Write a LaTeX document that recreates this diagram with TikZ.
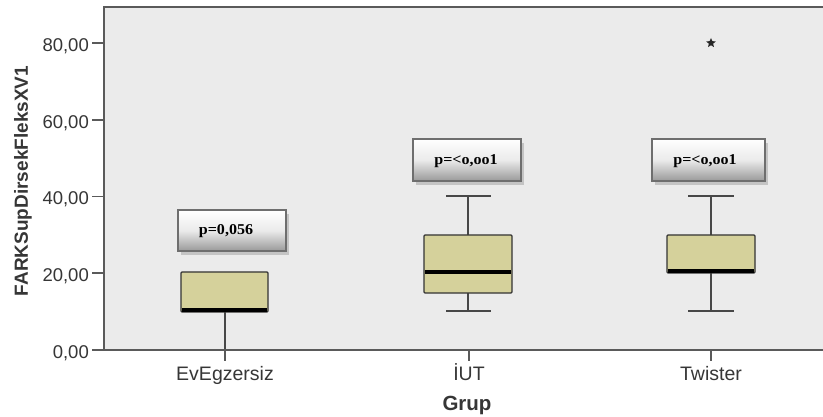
\documentclass[tikz,border=0pt]{standalone}
\usepackage{fontspec}
\setmainfont{Liberation Serif}
\newfontfamily\arialf{Liberation Sans}
\usetikzlibrary{shapes.geometric}
\definecolor{plotbg}{HTML}{EBEBEB}
\definecolor{boxfill}{HTML}{D5D19B}
\definecolor{axiscol}{HTML}{5A5A5A}
\definecolor{txtcol}{HTML}{363636}
\definecolor{pborder}{HTML}{6E6E6E}
\definecolor{pshadow}{HTML}{C4C4C4}
\newcommand{\pwideT}[1]{\scalebox{1.07}[1]{#1}}
\begin{document}
\begin{tikzpicture}[x=1pt,y=-1pt,
  ticklab/.style={font=\arialf\fontsize{18.5}{18.5}\selectfont, text=txtcol, anchor=base east, inner sep=0pt},
  catlab/.style={font=\arialf\fontsize{19.5}{19.5}\selectfont, text=txtcol, anchor=base, inner sep=0pt},
  axislbl/.style={font=\arialf\bfseries\fontsize{20.5}{20.5}\selectfont, text=txtcol, inner sep=0pt},
  axisline/.style={draw=axiscol, line width=1.8pt},
  databox/.style={draw=black!80, fill=boxfill, line width=1.3pt, rounded corners=1pt},
  whisk/.style={draw=black!72, line width=1.4pt},
  medianline/.style={draw=black, line width=4pt},
  pbox/.style={draw=pborder, line width=1.8pt, top color=white, bottom color=black!40, middle color=black!8},
  pshad/.style={fill=pshadow},
  ptext/.style={font=\bfseries\fontsize{15}{15}\selectfont, text=black, inner sep=0pt}
]
\useasboundingbox (0,0) rectangle (823,417);
\fill[white] (0,0) rectangle (823,417);
% plot background
\fill[plotbg] (104,7) rectangle (823,350);

% --- box 1: EvEgzersiz
\draw[whisk] (225,312) -- (225,350);
\draw[databox] (181,272) rectangle (268,312);
\draw[medianline] (182,310) -- (267,310);

% --- box 2: IUT
\draw[whisk] (468,196) -- (468,235);
\draw[whisk] (468,293) -- (468,311);
\draw[whisk] (446,196) -- (491,196);
\draw[whisk] (446,311) -- (491,311);
\draw[databox] (424,235) rectangle (512,293);
\draw[medianline] (425,272) -- (511,272);

% --- box 3: Twister
\draw[whisk] (711,196) -- (711,235);
\draw[whisk] (711,273) -- (711,311);
\draw[whisk] (688,196) -- (734,196);
\draw[whisk] (688,311) -- (734,311);
\draw[databox] (667,235) rectangle (755,273);
\draw[medianline] (668,271) -- (754,271);
\node[star, star points=5, star point ratio=2.2, fill=black!85, minimum size=10pt, inner sep=0pt] (outlier) at (711,43) {};

% --- frame and axes
\draw[axisline] (104,350) -- (104,7) -- (823,7);
\draw[axisline] (104,350) -- (823,350);
\foreach \v/\y in {0/350, 20/273.25, 40/196.5, 60/119.75, 80/43} {
  \draw[axisline] (92,\y) -- (104,\y);
  \node[ticklab] (t\v) at (89,\y+8.5) {\v,00};
}
\foreach \x in {225,469,711} {
  \draw[axisline] (\x,350) -- (\x,361);
}
\node[catlab] (c1) at (225,380) {EvEgzersiz};
\node[catlab] (c2) at (469,380) {İUT};
\node[catlab] (c3) at (711,380) {Twister};
\node[axislbl, anchor=base] (xl) at (467,410) {Grup};
\node[axislbl, font=\arialf\bfseries\fontsize{19}{19}\selectfont, rotate=90] (yl) at (23,181) {FARKSupDirsekFleksXV1};

% --- p-value boxes
\fill[pshad] (181,214) rectangle (289,255);
\draw[pbox] (178,210) rectangle (286,251);
\node[ptext] (p1) at (226,231) {\pwideT{p=0,056}};

\fill[pshad] (416,143) rectangle (524,185);
\draw[pbox] (413,139) rectangle (521,181);
\node[ptext] (p2) at (466,161) {\pwideT{p=<o,oo1}};

\fill[pshad] (655,143) rectangle (768,185);
\draw[pbox] (652,139) rectangle (765,181);
\node[ptext] (p3) at (705,161) {\pwideT{p=<o,oo1}};
\end{tikzpicture}
\end{document}
